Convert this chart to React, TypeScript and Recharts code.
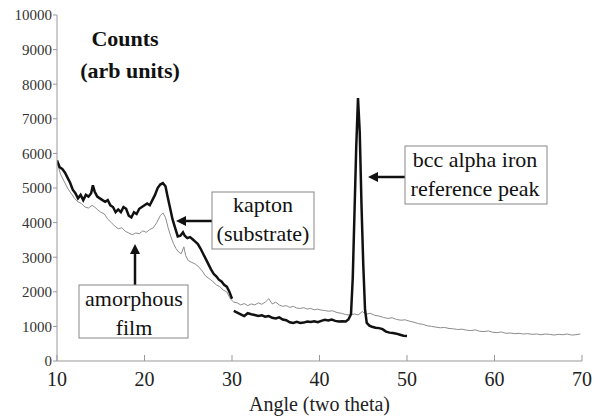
import { LineChart, Line, XAxis, YAxis } from 'recharts';

// thick black trace: film on kapton, with the iron reference peak
const filmScan: [number, number | null][] = [
  [10, 5800], [10.3, 5600], [10.6, 5550], [10.9, 5450], [11.2, 5300], [11.5, 5150], [11.8, 4950],
  [12.1, 4850], [12.4, 4700], [12.7, 4800], [13, 4650], [13.3, 4800], [13.6, 4750], [13.9, 4850],
  [14.1, 5080], [14.3, 4900], [14.6, 4750], [14.9, 4700], [15.2, 4650], [15.5, 4600], [15.8, 4650],
  [16.1, 4500], [16.4, 4450], [16.7, 4300], [17, 4380], [17.3, 4300], [17.6, 4450], [17.9, 4400],
  [18.2, 4200], [18.5, 4150], [18.8, 4300], [19.1, 4250], [19.4, 4400], [19.7, 4450], [20, 4500],
  [20.3, 4550], [20.6, 4500], [20.9, 4650], [21.2, 4800], [21.5, 5000], [21.8, 5100], [22.1, 5140],
  [22.4, 5050], [22.6, 4800], [22.9, 4450], [23.2, 4100], [23.5, 3850], [23.8, 3600], [24.1, 3620],
  [24.4, 3720], [24.6, 3620], [24.9, 3550], [25.2, 3580], [25.5, 3520], [25.8, 3450], [26.1, 3380],
  [26.4, 3250], [26.7, 3100], [27, 2950], [27.3, 2800], [27.6, 2650], [27.9, 2520], [28.2, 2450],
  [28.5, 2350], [28.8, 2300], [29.1, 2200], [29.4, 2150], [29.7, 2000], [30, 1800], [30.1, null],
  [30.2, 1450], [30.6, 1400], [31, 1350], [31.4, 1300], [31.8, 1380], [32.2, 1350], [32.6, 1330],
  [33, 1300], [33.4, 1320], [33.8, 1280], [34.2, 1300], [34.6, 1250], [35, 1230], [35.4, 1260],
  [35.8, 1200], [36.2, 1180], [36.6, 1120], [37, 1100], [37.4, 1130], [37.8, 1100], [38.2, 1110],
  [38.6, 1140], [39, 1130], [39.4, 1150], [39.8, 1120], [40.2, 1160], [40.6, 1190], [41, 1170],
  [41.4, 1200], [41.8, 1160], [42.2, 1140], [42.6, 1150], [43, 1140], [43.3, 1200], [43.6, 1350],
  [43.8, 2400], [44, 4300], [44.2, 6200], [44.4, 7600], [44.6, 6600], [44.8, 4500], [45, 2800],
  [45.2, 1500], [45.4, 1100], [45.7, 1020], [46, 990], [46.4, 960], [46.8, 950], [47.2, 920],
  [47.6, 850], [48, 820], [48.4, 810], [48.8, 790], [49.2, 760], [49.6, 730], [50, 720],
];

// thin grey trace: amorphous film
const amorphousScan: [number, number][] = [
  [10, 5750], [10.4, 5400], [10.8, 5200], [11.2, 5000], [11.6, 4850], [12, 4700], [12.4, 4600],
  [12.8, 4550], [13.2, 4450], [13.6, 4420], [14, 4500], [14.3, 4450], [14.6, 4380], [15, 4300],
  [15.4, 4250], [15.8, 4100], [16.2, 4000], [16.6, 3900], [17, 3820], [17.4, 3850], [17.8, 3750],
  [18.2, 3700], [18.6, 3650], [19, 3700], [19.4, 3680], [19.8, 3760], [20.2, 3720], [20.6, 3800],
  [21, 3850], [21.4, 4000], [21.8, 4200], [22.1, 4280], [22.4, 4150], [22.7, 3850], [23, 3600],
  [23.3, 3400], [23.6, 3250], [23.9, 3150], [24.2, 3100], [24.5, 3300], [24.7, 3050], [25, 2900],
  [25.4, 2850], [25.8, 2800], [26.2, 2720], [26.6, 2600], [27, 2450], [27.4, 2380], [27.8, 2300],
  [28.2, 2200], [28.6, 2150], [29, 2050], [29.4, 2000], [29.8, 1800], [30.2, 1700], [30.6, 1680],
  [31, 1620], [31.4, 1660], [31.8, 1600], [32.2, 1650], [32.6, 1620], [33, 1680], [33.4, 1640],
  [33.8, 1700], [34.2, 1800], [34.6, 1650], [35, 1700], [35.4, 1620], [35.8, 1580], [36.2, 1600],
  [36.6, 1550], [37, 1580], [37.4, 1530], [37.8, 1520], [38.2, 1540], [38.6, 1500], [39, 1520],
  [39.4, 1480], [39.8, 1500], [40.2, 1470], [40.6, 1460], [41, 1440], [41.5, 1450], [42, 1400],
  [42.5, 1380], [43, 1340], [43.5, 1330], [44, 1360], [44.4, 1330], [44.9, 1430], [45.3, 1350],
  [45.8, 1380], [46.3, 1320], [46.8, 1300], [47.3, 1260], [47.8, 1230], [48.3, 1250], [48.8, 1200],
  [49.3, 1180], [49.8, 1190], [50.3, 1150], [50.8, 1120], [51.3, 1080], [51.8, 1060], [52.3, 1020],
  [52.8, 1000], [53.3, 980], [53.8, 960], [54.3, 970], [54.8, 940], [55.3, 930], [55.8, 910],
  [56.3, 920], [56.8, 890], [57.3, 880], [57.8, 900], [58.3, 860], [58.8, 850], [59.3, 870],
  [59.8, 830], [60.3, 820], [60.8, 840], [61.3, 800], [61.8, 810], [62.3, 790], [62.8, 800],
  [63.3, 780], [63.8, 790], [64.3, 770], [64.8, 780], [65.3, 760], [65.8, 780], [66.3, 770],
  [66.8, 750], [67.3, 770], [67.8, 760], [68.3, 780], [68.8, 750], [69.3, 760], [69.8, 780],
];

const angleTicks = [10, 20, 30, 40, 50, 60, 70];
const countTicks = [0, 1000, 2000, 3000, 4000, 5000, 6000, 7000, 8000, 9000, 10000];

const toRows = (pts: [number, number | null][]) => pts.map(([angle, counts]) => ({ angle, counts }));

const SERIF = 'Liberation Serif, Times New Roman, serif';

function Arrow({ x1, y1, x2, y2 }: { x1: number; y1: number; x2: number; y2: number }) {
  // arrowhead at (x2, y2)
  const a = Math.atan2(y2 - y1, x2 - x1);
  const L = 10, W = 5;
  const bx = x2 - L * Math.cos(a), by = y2 - L * Math.sin(a);
  const px = -Math.sin(a) * W, py = Math.cos(a) * W;
  return (
    <g>
      <line x1={x1} y1={y1} x2={bx} y2={by} stroke="#111" strokeWidth={2.5} />
      <polygon points={`${x2},${y2} ${bx + px},${by + py} ${bx - px},${by - py}`} fill="#111" />
    </g>
  );
}

function Notes() {
  const box = { fill: '#fff', stroke: '#888', strokeWidth: 1 };
  const txt = { fontFamily: SERIF, fontSize: 22, fill: '#111' };
  return (
    <svg width={603} height={419} style={{ position: 'absolute', left: 0, top: 0, pointerEvents: 'none' }}>
      <text x={125} y={46} textAnchor="middle" {...txt} fontWeight="bold">Counts</text>
      <text x={130} y={78} textAnchor="middle" {...txt} fontWeight="bold">(arb units)</text>

      <Arrow x1={212} y1={221} x2={176} y2={221} />
      <rect x={212} y={192} width={102} height={57} {...box} />
      <text x={263} y={212} textAnchor="middle" {...txt}>kapton</text>
      <text x={263} y={241} textAnchor="middle" {...txt}>(substrate)</text>

      <Arrow x1={135} y1={285} x2={135} y2={244} />
      <rect x={79} y={285} width={109} height={53} {...box} />
      <text x={134} y={306} textAnchor="middle" {...txt}>amorphous</text>
      <text x={134} y={335} textAnchor="middle" {...txt}>film</text>

      <Arrow x1={405} y1={177} x2={368} y2={177} />
      <rect x={405} y={146} width={142} height={58} {...box} />
      <text x={475} y={167} textAnchor="middle" {...txt}>bcc alpha iron</text>
      <text x={475} y={196} textAnchor="middle" {...txt}>reference peak</text>
    </svg>
  );
}

export default function App() {
  return (
    <div style={{ position: 'absolute', left: 0, top: 0, width: 603, height: 419, background: '#fff', fontFamily: SERIF }}>
      <LineChart width={603} height={419} margin={{ top: 15, right: 21, bottom: 0, left: 0 }}>
        <XAxis
          dataKey="angle"
          type="number"
          domain={[10, 70]}
          ticks={angleTicks}
          allowDataOverflow
          stroke="#999"
          tickSize={-6}
          tickMargin={17}
          tick={{ fontFamily: SERIF, fontSize: 20, fill: '#222' }}
          height={58}
          label={{ value: 'Angle (two theta)', position: 'insideBottom', offset: 8, style: { fontFamily: SERIF, fontSize: 20, fill: '#222' } }}
        />
        <YAxis
          type="number"
          domain={[0, 10000]}
          ticks={countTicks}
          stroke="#999"
          width={57}
          tickSize={4}
          tickMargin={1}
          tick={{ fontFamily: SERIF, fontSize: 15, fill: '#333' }}
          interval={0}
        />
        <Line
          data={toRows(amorphousScan)}
          dataKey="counts"
          type="linear"
          stroke="#8c8c8c"
          strokeWidth={1}
          dot={false}
          isAnimationActive={false}
        />
        <Line
          data={toRows(filmScan)}
          dataKey="counts"
          type="linear"
          stroke="#111"
          strokeWidth={2.5}
          dot={false}
          connectNulls={false}
          isAnimationActive={false}
        />
      </LineChart>
      <Notes />
    </div>
  );
}
